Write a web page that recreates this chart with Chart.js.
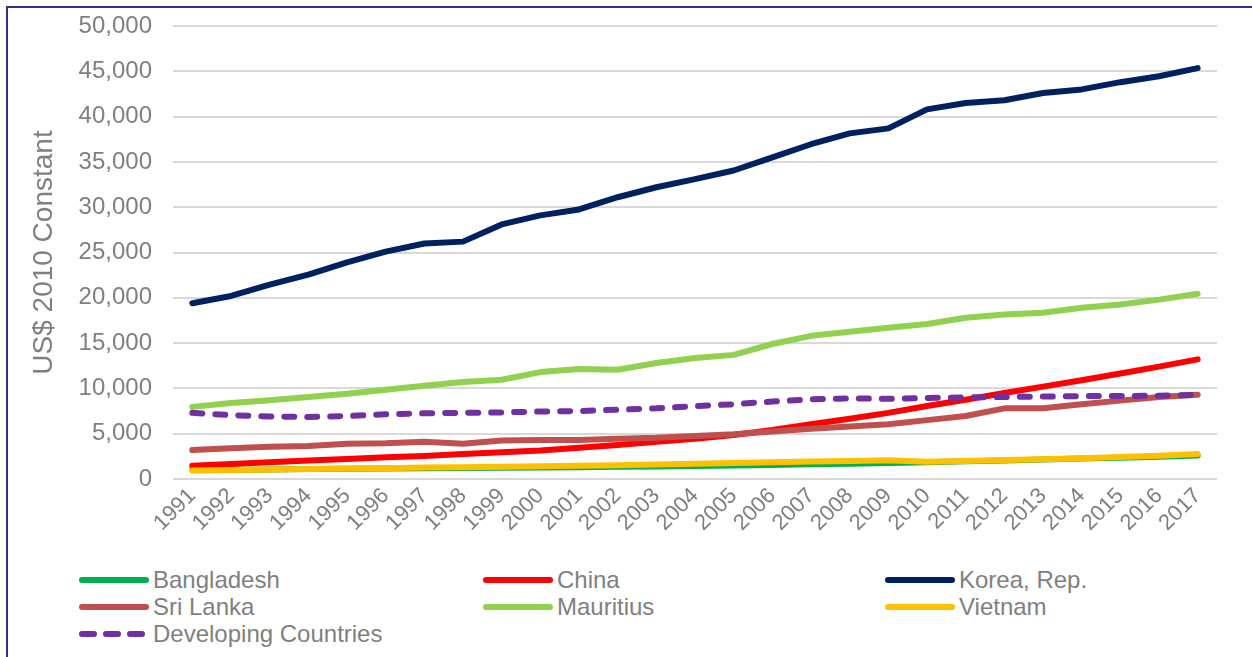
<!DOCTYPE html>
<html>
<head>
<meta charset="utf-8">
<script src="https://cdn.jsdelivr.net/npm/chart.js@4.4.0/dist/chart.umd.min.js"></script>
<style>
  html, body { margin: 0; padding: 0; background: #fff; overflow: hidden; }
  body { width: 1252px; height: 657px; position: relative; font-family: "Liberation Sans", Arial, sans-serif; }
  #frame { position: absolute; left: 6px; top: 6px; width: 1300px; height: 700px; border: 2px solid #3b2c8c; box-sizing: border-box; }
  #wrap { position: absolute; left: 0; top: 0; width: 1252px; height: 560px; }
  #legend { position: absolute; left: 0; top: 566px; width: 1252px; }
  .item { position: absolute; height: 27px; display: flex; align-items: center; color: #7f7f7f; font-size: 24px; white-space: nowrap; }
  .item svg { margin-right: 3px; }
</style>
</head>
<body>
<div id="frame"></div>
<div id="wrap"><canvas id="gdpChart" width="1252" height="560"></canvas></div>
<div id="legend"></div>
<script>
// Años y series (USD constantes de 2010)
const years = ['1991','1992','1993','1994','1995','1996','1997','1998','1999','2000','2001','2002','2003','2004',
               '2005','2006','2007','2008','2009','2010','2011','2012','2013','2014','2015','2016','2017'];

const bangladesh = [1000,1030,1060,1090,1120,1150,1180,1210,1240,1280,1310,1340,1380,1430,
                    1480,1550,1620,1690,1760,1850,1950,2050,2150,2250,2350,2450,2580];
const china = [1450,1650,1850,2050,2200,2400,2550,2750,2950,3150,3450,3750,4100,4450,
               4850,5400,6050,6650,7300,8050,8750,9500,10200,10900,11650,12400,13200];
const korea = [19400,20200,21450,22550,23900,25100,26000,26200,28100,29100,29750,31100,32200,33100,
               34050,35500,36950,38150,38700,40800,41500,41800,42600,43000,43800,44450,45350];
const sriLanka = [3200,3400,3550,3650,3900,3950,4100,3900,4250,4300,4300,4450,4550,4750,
                  4950,5250,5550,5800,6050,6500,6950,7800,7800,8250,8650,9050,9300];
const mauritius = [7960,8400,8700,9050,9400,9850,10300,10700,10950,11800,12150,12050,12800,13350,
                   13700,14900,15800,16250,16700,17100,17800,18150,18350,18900,19250,19800,20450];
const vietnam = [950,1000,1050,1100,1150,1200,1260,1300,1340,1400,1450,1520,1590,1670,
                 1760,1840,1930,2000,2070,1900,1990,2090,2180,2290,2420,2570,2760];
const developing = [7300,7050,6900,6850,6950,7150,7250,7300,7350,7450,7500,7650,7800,8050,
                    8250,8550,8800,8900,8850,8950,9000,9050,9100,9150,9150,9200,9300];

const yTicks = [0,5000,10000,15000,20000,25000,30000,35000,40000,45000,50000];

const GRAY = '#7f7f7f';

function serie(label, data, color, order, dash) {
    return {
        label: label,
        data: data,
        borderColor: color,
        backgroundColor: color,
        borderWidth: 6,
        borderCapStyle: 'round',
        borderJoinStyle: 'round',
        borderDash: dash || [],
        pointRadius: 0,
        tension: 0,
        order: order
    };
}

const datasets = [
    serie('Bangladesh', bangladesh, '#00b050', 7),
    serie('China', china, '#ff0000', 6),
    serie('Korea, Rep.', korea, '#002060', 5),
    serie('Sri Lanka', sriLanka, '#c0504d', 4),
    serie('Mauritius', mauritius, '#92d050', 3),
    serie('Vietnam', vietnam, '#ffc000', 2),
    serie('Developing Countries', developing, '#7030a0', 1, [10, 13])
];

const chart = new Chart(document.getElementById('gdpChart'), {
    type: 'line',
    data: { labels: years, datasets: datasets },
    options: {
        responsive: false,
        animation: false,
        layout: { padding: { left: 0, right: 35, top: 26, bottom: 0 } },
        plugins: {
            legend: { display: false },
            tooltip: { enabled: false }
        },
        scales: {
            x: {
                offset: true,
                grid: { display: false, drawTicks: false },
                border: { display: false },
                ticks: {
                    color: GRAY,
                    font: { family: '"Liberation Sans", Arial', size: 22 },
                    minRotation: 45,
                    maxRotation: 45,
                    autoSkip: false,
                    padding: 4
                },
                afterFit: function(scale) { scale.height = 81; }
            },
            y: {
                min: 0,
                max: 50000,
                afterBuildTicks: function(scale) {
                    scale.ticks = yTicks.map(v => ({ value: v }));
                },
                grid: { color: '#d9d9d9', lineWidth: 2, drawTicks: false },
                border: { display: false },
                ticks: {
                    color: GRAY,
                    font: { family: '"Liberation Sans", Arial', size: 24 },
                    padding: 21,
                    callback: function(value) {
                        return value.toLocaleString('en-US');
                    }
                },
                title: {
                    display: true,
                    text: 'US$ 2010 Constant',
                    color: GRAY,
                    font: { family: '"Liberation Sans", Arial', size: 28 },
                    padding: { top: 27, bottom: 0 }
                },
                afterFit: function(scale) {
                    scale.width = 173;
                    // el área del gráfico queda definida solo por layout.padding
                    scale.paddingTop = 0;
                    scale.paddingBottom = 0;
                }
            }
        }
    }
});

// Leyenda en tres columnas, construida a partir de los datasets
const legendCols = [78, 482, 884];
const legendRows = [0, 27, 54];
const legendEl = document.getElementById('legend');
datasets.forEach(function(ds, i) {
    const item = document.createElement('div');
    item.className = 'item';
    item.style.left = legendCols[i % 3] + 'px';
    item.style.top = legendRows[Math.floor(i / 3)] + 'px';
    const dash = ds.borderDash.length ? ' stroke-dasharray="12 12"' : '';
    item.innerHTML =
        '<svg width="72" height="10"><line x1="4" y1="5" x2="68" y2="5" stroke="' + ds.borderColor +
        '" stroke-width="6" stroke-linecap="round"' + dash + '/></svg><span>' + ds.label + '</span>';
    legendEl.appendChild(item);
});
</script>
</body>
</html>
